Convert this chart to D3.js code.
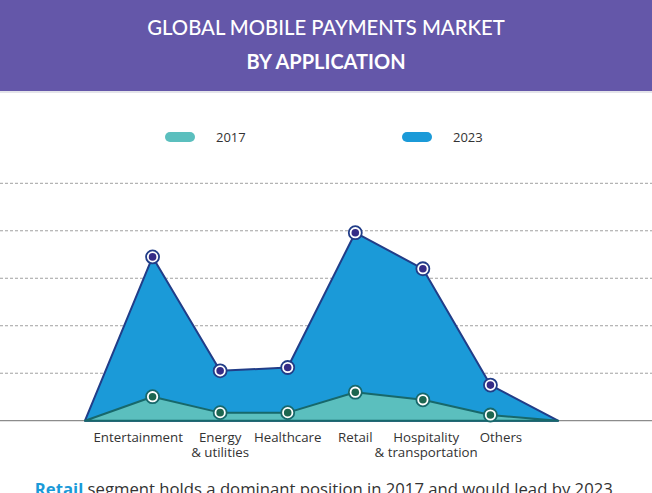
<!DOCTYPE html>
<html>
<head>
<meta charset="utf-8">
<script src="https://cdn.jsdelivr.net/npm/d3@7/dist/d3.min.js"></script>
<style>
  html, body { margin: 0; padding: 0; background: #ffffff; }
  svg { display: block; }
</style>
</head>
<body>
<svg id="chart" width="652" height="493"></svg>
<script>
// ---- Data ----
const categories = ["Entertainment", "Energy\n& utilities", "Healthcare", "Retail", "Hospitality\n& transportation", "Others"];
const values2017 = [5.05, 1.7, 1.7, 6.0, 4.4, 1.2];
const values2023 = [34.5, 10.5, 11.2, 39.6, 32.0, 7.5];
const seriesNames = ["2017", "2023"];
const gridTicks = [10, 20, 30, 40, 50];
const titleLines = ["GLOBAL MOBILE PAYMENTS MARKET", "BY APPLICATION"];
const footnoteHighlight = "Retail";
const footnoteRest = " segment holds a dominant position in 2017 and would lead by 2023.";

// ---- Layout ----
const W = 652, H = 493;
const svg = d3.select("#chart");
const colors = {
  header: "#6457a9",
  fill2017: "#5bbfbe", stroke2017: "#17686b", dot2017: "#1d6650",
  fill2023: "#1b9ad8", stroke2023: "#213d88", dot2023: "#352c86",
  text: "#333333", grid: "#a0a0a0", axis: "#8c8c8c"
};

// Header
svg.append("rect").attr("x", 0).attr("y", 0).attr("width", W).attr("height", 91).attr("fill", colors.header);
svg.append("rect").attr("x", 0).attr("y", 91).attr("width", W).attr("height", 2).attr("fill", "#e4e4ea");
svg.append("text").attr("x", 326).attr("y", 35).attr("text-anchor", "middle")
  .attr("font-family", "Lato, 'Open Sans', sans-serif").attr("font-size", 20.3).attr("font-weight", 500)
  .attr("fill", "#ffffff").text(titleLines[0]);
svg.append("text").attr("x", 326).attr("y", 69).attr("text-anchor", "middle")
  .attr("font-family", "Lato, 'Open Sans', sans-serif").attr("font-size", 20).attr("font-weight", 700)
  .attr("fill", "#ffffff").text(titleLines[1]);

// Legend
const legend = svg.append("g");
const legendItems = [
  { name: seriesNames[0], fill: colors.fill2017, x: 165 },
  { name: seriesNames[1], fill: colors.fill2023, x: 402 }
];
legendItems.forEach(d => {
  legend.append("rect").attr("x", d.x).attr("y", 132).attr("width", 30).attr("height", 10)
    .attr("rx", 5).attr("ry", 5).attr("fill", d.fill);
  legend.append("text").attr("x", d.x + 51).attr("y", 142)
    .attr("font-family", "'Open Sans', sans-serif").attr("font-size", 13)
    .attr("fill", colors.text).text(d.name);
});

// Scales
const domainX = ["__start"].concat(categories, ["__end"]);
const x = d3.scalePoint().domain(domainX).range([85, 558]);
const y = d3.scaleLinear().domain([0, 50]).range([420.7, 183.3]);

// Gridlines
const grid = svg.append("g");
grid.selectAll("line").data(gridTicks).join("line")
  .attr("x1", 0).attr("x2", W)
  .attr("y1", d => y(d)).attr("y2", d => y(d))
  .attr("stroke", colors.grid).attr("stroke-width", 1).attr("stroke-dasharray", "3,2");

// Baseline
svg.append("line").attr("x1", 0).attr("x2", W).attr("y1", y(0)).attr("y2", y(0))
  .attr("stroke", colors.axis).attr("stroke-width", 1.2);

function seriesPoints(vals) {
  const pts = [{ k: "__start", v: 0 }];
  categories.forEach((c, i) => pts.push({ k: c, v: vals[i] }));
  pts.push({ k: "__end", v: 0 });
  return pts;
}

const area = d3.area().x(d => x(d.k)).y0(y(0)).y1(d => y(d.v)).curve(d3.curveLinear);

function drawSeries(vals, fill, stroke, dot) {
  const pts = seriesPoints(vals);
  svg.append("path").datum(pts).attr("d", area)
    .attr("fill", fill).attr("stroke", stroke).attr("stroke-width", 2).attr("stroke-linejoin", "round");
  const g = svg.append("g");
  const mk = g.selectAll("g").data(pts.slice(1, -1)).join("g")
    .attr("transform", d => `translate(${x(d.k)},${y(d.v)})`);
  mk.append("circle").attr("r", 6.5).attr("fill", "#ffffff").attr("stroke", stroke).attr("stroke-width", 1.8);
  mk.append("circle").attr("r", 3.8).attr("fill", dot);
}

drawSeries(values2023, colors.fill2023, colors.stroke2023, colors.dot2023);
drawSeries(values2017, colors.fill2017, colors.stroke2017, colors.dot2017);

// Category labels: one text per category (tspans per line), nudged to avoid touching neighbours
const labels = svg.append("g");
const labelTexts = categories.map(c => {
  const t = labels.append("text").attr("text-anchor", "middle")
    .attr("font-family", "'Open Sans', sans-serif").attr("font-size", 13.3).attr("fill", colors.text);
  const spans = c.split("\n").map((ln, i) => t.append("tspan").attr("x", x(c)).attr("y", 442 + i * 15).text(ln));
  return { t, spans };
});
const firstW = labelTexts.map(o => o.spans[0].node().getComputedTextLength());
const maxW = labelTexts.map(o => d3.max(o.spans, s => s.node().getComputedTextLength()));
const centers = categories.map(c => x(c));
// pass 1: right-to-left, push a label left if it crowds its right neighbour's first line
for (let i = categories.length - 2; i >= 0; i--) {
  const overlap = centers[i] + maxW[i] / 2 + 16 - (centers[i + 1] - firstW[i + 1] / 2);
  if (overlap > 0 && labelTexts[i].spans.length === 1) centers[i] -= overlap;
}
// pass 2: left-to-right, push a label right if it collides with its left neighbour's widest line
for (let i = 1; i < categories.length; i++) {
  const overlap = centers[i - 1] + maxW[i - 1] / 2 + 2 - (centers[i] - maxW[i] / 2);
  if (overlap > 0) centers[i] += overlap;
}
labelTexts.forEach((o, i) => o.spans.forEach(s => s.attr("x", centers[i])));

// Footnote
const foot = svg.append("text").attr("x", 326).attr("y", 495).attr("text-anchor", "middle")
  .attr("font-family", "'Open Sans', sans-serif").attr("font-size", 16.7).attr("fill", colors.text);
foot.append("tspan").attr("fill", "#1a9ad8").attr("font-weight", 700).text(footnoteHighlight);
foot.append("tspan").text(footnoteRest);
</script>
</body>
</html>
